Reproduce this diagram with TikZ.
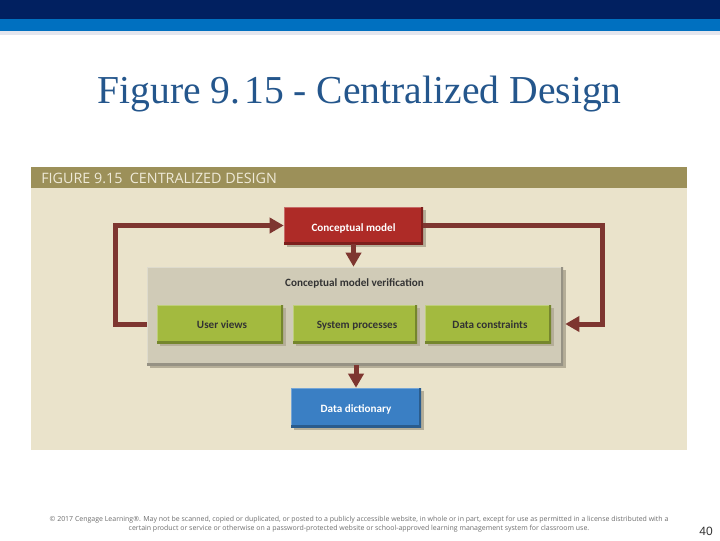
\documentclass[tikz,border=0pt]{standalone}
\usepackage{fontspec}
\setmainfont{Liberation Serif}
\newfontfamily\boxfont{Carlito}
\newfontfamily\headfont{Open Sans}
\newfontfamily\notefont{Open Sans}
\newfontfamily\numfont{Liberation Sans}
\usetikzlibrary{arrows.meta,shadows}
\definecolor{navy}{HTML}{012060}
\definecolor{midblue}{HTML}{0070C0}
\definecolor{paleband}{HTML}{E4E6EE}
\definecolor{titleblue}{HTML}{24568C}
\definecolor{panelbg}{HTML}{EAE3CB}
\definecolor{bandcol}{HTML}{9C9059}
\definecolor{headtext}{HTML}{EFEAD8}
\definecolor{redbox}{HTML}{AE2B27}
\definecolor{greenbox}{HTML}{A3BA3F}
\definecolor{bluebox}{HTML}{3A7FC4}
\definecolor{greybox}{HTML}{D0CBB7}
\definecolor{arrowcol}{HTML}{7E3630}
\definecolor{shadowcol}{HTML}{B5AE98}
\definecolor{notecol}{HTML}{6E6E6E}
\def\pxu{0.75pt}
\tikzset{
  x=0.75pt,y=-0.75pt,
  bevel/.style={
    draw=none,fill=#1,inner sep=0pt,align=center,
    drop shadow={shadow xshift=2.5*\pxu,shadow yshift=-3*\pxu,fill=shadowcol,opacity=1},
    path picture={
      \draw[line width=2.6*\pxu,#1!70!white]
        (path picture bounding box.south west)--(path picture bounding box.north west)--(path picture bounding box.north east);
      \draw[line width=4*\pxu,#1!72!black]
        (path picture bounding box.south west)--(path picture bounding box.south east)--(path picture bounding box.north east);
    }},
  boxlabel/.style={font=\boxfont\bfseries\fontsize{8.35pt}{10pt}\selectfont,text height=7.6pt,text depth=0.4pt},
  link/.style={draw=arrowcol,line width=5*\pxu,line join=miter},
  linkhead/.style={link,-{Triangle[length=14*\pxu,width=15*\pxu]}},
}
\begin{document}
\begin{tikzpicture}
\useasboundingbox (0,0) rectangle (720,540);
\fill[white] (0,0) rectangle (720,540);
\fill[navy] (0,0) rectangle (720,19);
\fill[midblue] (0,19) rectangle (720,31);
\fill[paleband] (0,31) rectangle (720,35);
\node[text=titleblue,font=\fontsize{29.7pt}{32pt}\selectfont,inner sep=0pt] (title) at (359.5,94) {Figure 9.\hspace{0.1em}15 - Centralized Design};
\fill[panelbg] (31,167) rectangle (687,450);
\fill[bandcol] (31,167) rectangle (687,188);
\node[anchor=west,text=headtext,font=\headfont\fontsize{10.75pt}{12pt}\selectfont,inner sep=0pt] (head) at (41,178) {FIGURE 9.15\ \ CENTRALIZED DESIGN};
\node[bevel=greybox,minimum width=416*\pxu,minimum height=98*\pxu] (verify) at (355,316) {};
\node[boxlabel,text=black!80] (verifytext) at (354.5,281.5) {Conceptual model verification};
\node[bevel=redbox,boxlabel,text=white,text height=8.6pt,text depth=0pt,minimum width=139*\pxu,minimum height=37*\pxu] (model) at (353.5,225.5) {Conceptual model};
\node[bevel=greenbox,boxlabel,text=black!80,minimum width=126*\pxu,minimum height=38*\pxu] (user) at (220,324) {\hspace*{3pt}User views};
\node[bevel=greenbox,boxlabel,text=black!80,minimum width=124*\pxu,minimum height=38*\pxu] (system) at (355,324) {\hspace*{3pt}System processes};
\node[bevel=greenbox,boxlabel,text=black!80,minimum width=126*\pxu,minimum height=38*\pxu] (data) at (488,324) {\hspace*{3pt}Data constraints};
\node[bevel=bluebox,boxlabel,text=white,minimum width=130*\pxu,minimum height=39*\pxu] (dict) at (356,407.5) {Data dictionary};
\coordinate (leftturn) at (115,324);
\coordinate (rightturn) at (602,324);
\draw[linkhead] (verify.west |- user.center) -- (leftturn) -- (leftturn |- model.west) -- (model.west);
\draw[linkhead] (model.east) -- (rightturn |- model.east) -- (rightturn) -- ([xshift=2*\pxu]verify.east |- data.center);
\draw[linkhead] (model.south) -- (model.south |- verify.north);
\draw[linkhead] (dict.north |- verify.south) -- (dict.north);
\node[text=notecol,font=\notefont\fontsize{5.23pt}{6.9pt}\selectfont,align=center,inner sep=0pt] (note) at (359,524) {© 2017 Cengage Learning®. May not be scanned, copied or duplicated, or posted to a publicly accessible website, in whole or in part, except for use as permitted in a license distributed with a\\certain product or service or otherwise on a password-protected website or school-approved learning management system for classroom use.};
\node[text=black!80,font=\numfont\fontsize{9pt}{10pt}\selectfont,inner sep=0pt] (page) at (706,531) {40};
\end{tikzpicture}
\end{document}
